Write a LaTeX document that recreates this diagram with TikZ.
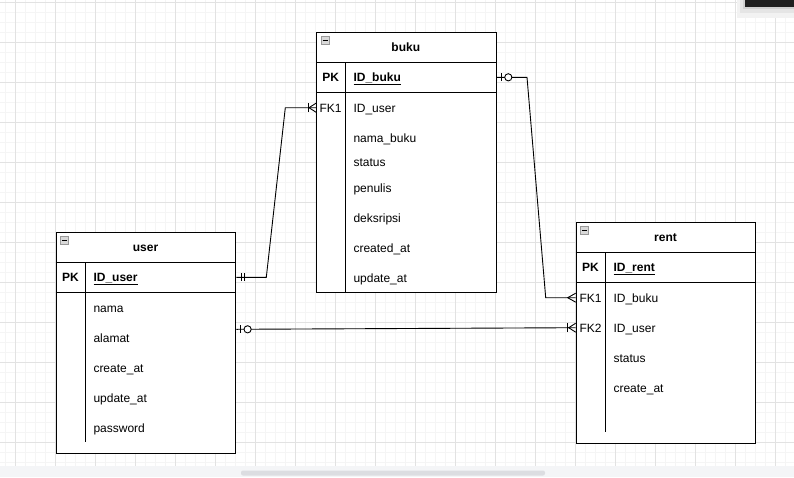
\documentclass[tikz,border=0pt]{standalone}
\usepackage{fontspec}
\setmainfont{Liberation Sans}
\usetikzlibrary{calc}
\definecolor{gridmajor}{HTML}{E2E2E2}
\definecolor{gridminor}{HTML}{F5F5F5}
\definecolor{bandgray}{HTML}{F4F5F7}
\definecolor{scrollgray}{HTML}{DCDDE1}
\newcommand{\fs}{\fontsize{12}{14}\selectfont}
\tikzset{
  tbl/.style={draw=black, fill=white, line width=1pt, inner sep=0pt, anchor=north west, minimum width=179.6pt},
  sep/.style={draw=black, line width=1pt},
  fld/.style={anchor=west, inner sep=0pt, font=\fs, text height=8.6pt, text depth=0pt},
  keylbl/.style={anchor=center, inner sep=0pt, font=\fs, text height=8.6pt, text depth=0pt},
  ttl/.style={anchor=center, inner sep=0pt, font=\fs\bfseries, text height=8.6pt, text depth=0pt},
  rel/.style={draw=black, line width=0.9pt},
  relmark/.style={draw=black, line width=0.9pt},
  minusbox/.style={draw=gray!80, fill=gray!30, line width=0.6pt},
}
\begin{document}
\begin{tikzpicture}[x=1pt, y=-1pt]
\useasboundingbox (0,0) rectangle (794,477);
\fill[white] (0,0) rectangle (794,477);
% grid
\foreach \x in {5,15,...,794} \draw[gridminor, line width=0.6pt] (\x,0) -- (\x,466);
\foreach \y in {2,12,...,466} \draw[gridminor, line width=0.6pt] (0,\y) -- (794,\y);
\foreach \x in {15,55,...,794} \draw[gridmajor, line width=0.8pt] (\x,0) -- (\x,466);
\foreach \y in {2,42,...,466} \draw[gridmajor, line width=0.8pt] (0,\y) -- (794,\y);
% bottom band and scrollbar
\fill[bandgray] (0,466) rectangle (794,477);
\fill[scrollgray, rounded corners=2pt] (241,470.5) rectangle (545,475.5);
% top right dark box with soft shadow
\fill[black!5] (737,0) rectangle (794,18);
\fill[black!10] (740,0) rectangle (794,13);
\fill[black!18] (743,0) rectangle (794,9);
\fill[black!88] (745,0) rectangle (794,6.5);

% ===== buku =====
\node[tbl, minimum height=259.7pt] (buku) at (316,32.3) {};
\draw[sep] (316,62.3) -- (495.6,62.3);
\draw[sep] (316,92.3) -- (495.6,92.3);
\draw[sep] (345.3,62.3) -- (345.3,292);
\draw[minusbox] (321,36.5) rectangle (329,44);
\draw[line width=0.8pt] (322.5,40.2) -- (327.5,40.2);
\node[ttl] (bT) at (405.8,47.3) {buku};
\node[keylbl, font=\fs\bfseries] (bPK) at (330.6,77.3) {PK};
\node[fld, font=\fs\bfseries] (bID) at (353.3,77.3) {\underline{ID\_buku}};
\node[keylbl] (bFK) at (330.6,107.7) {FK1};
\node[fld] (bUser) at (353.3,107.7) {ID\_user};
\node[fld] (bNama) at (353.3,137.7) {nama\_buku};
\node[fld] (bStatus) at (353.3,162.3) {status};
\node[fld] (bPenulis) at (353.3,188.3) {penulis};
\node[fld] (bDesk) at (353.3,217.7) {deksripsi};
\node[fld] (bCreated) at (353.3,247.7) {created\_at};
\node[fld] (bUpdate) at (353.3,277.7) {update\_at};

% ===== user =====
\node[tbl, minimum height=220.4pt] (user) at (55.7,232.3) {};
\draw[sep] (55.7,262.3) -- (235.3,262.3);
\draw[sep] (55.7,292.3) -- (235.3,292.3);
\draw[sep] (85.3,262.3) -- (85.3,441.7);
\draw[minusbox] (60.7,236.5) rectangle (68.7,244);
\draw[line width=0.8pt] (62.2,240.2) -- (67.2,240.2);
\node[ttl] (uT) at (145.5,247.3) {user};
\node[keylbl, font=\fs\bfseries] (uPK) at (70.5,277.3) {PK};
\node[fld, font=\fs\bfseries] (uID) at (93.3,277.3) {\underline{ID\_user}};
\node[fld] (uNama) at (93.3,307.7) {nama};
\node[fld] (uAlamat) at (93.3,337.7) {alamat};
\node[fld] (uCreate) at (93.3,367.7) {create\_at};
\node[fld] (uUpdate) at (93.3,397.7) {update\_at};
\node[fld] (uPass) at (93.3,427.7) {password};

% ===== rent =====
\node[tbl, minimum height=220.4pt] (rent) at (575.7,222.3) {};
\draw[sep] (575.7,252.3) -- (755.3,252.3);
\draw[sep] (575.7,282.3) -- (755.3,282.3);
\draw[sep] (605.3,252.3) -- (605.3,431.7);
\draw[minusbox] (580.7,226.5) rectangle (588.7,234);
\draw[line width=0.8pt] (582.2,230.2) -- (587.2,230.2);
\node[ttl] (rT) at (665.5,237.3) {rent};
\node[keylbl, font=\fs\bfseries] (rPK) at (590.5,267.3) {PK};
\node[fld, font=\fs\bfseries] (rID) at (613.3,267.3) {\underline{ID\_rent}};
\node[keylbl] (rFK1) at (590.5,297.7) {FK1};
\node[fld] (rBuku) at (613.3,297.7) {ID\_buku};
\node[keylbl] (rFK2) at (590.5,327.7) {FK2};
\node[fld] (rUser) at (613.3,327.7) {ID\_user};
\node[fld] (rStatus) at (613.3,357.7) {status};
\node[fld] (rCreate) at (613.3,387.7) {create\_at};

% ===== connectors =====
% user.ID_user (mandatory one) -> buku.ID_user (one or many)
\coordinate (c1s) at (uID -| user.east);
\coordinate (c1e) at (bUser -| buku.west);
\draw[rel] (c1s) -- ($(c1s)+(30,0)$) -- ($(c1e)+(-30.7,0)$) -- (c1e);
\draw[relmark] ($(c1s)+(5,-4)$) -- ($(c1s)+(5,4)$);
\draw[relmark] ($(c1s)+(8,-4)$) -- ($(c1s)+(8,4)$);
\draw[relmark] ($(c1e)+(-8,-4.5)$) -- ($(c1e)+(-8,4.5)$);
\draw[relmark] ($(c1e)+(0,-4.5)$) -- ($(c1e)+(-7,0)$) -- ($(c1e)+(0,4.5)$);

% buku.ID_buku (zero or one) -> rent.ID_buku (many)
\coordinate (c2s) at (bID -| buku.east);
\coordinate (c2e) at (rBuku -| rent.west);
\draw[rel] (c2s) -- ($(c2s)+(30.4,0)$) -- ($(c2e)+(-30,0)$) -- (c2e);
\draw[relmark] ($(c2s)+(4.7,-4)$) -- ($(c2s)+(4.7,4)$);
\draw[relmark, fill=white] ($(c2s)+(11.7,0)$) circle (3.6);
\draw[relmark] ($(c2e)+(0,-4.5)$) -- ($(c2e)+(-8,0)$) -- ($(c2e)+(0,4.5)$);

% user.alamat (zero or one) -> rent.ID_user (one or many)
\coordinate (c3s) at ($(uAlamat -| user.east)+(0,-8.4)$);
\coordinate (c3e) at (rUser -| rent.west);
\draw[rel] (c3s) -- (c3e);
\draw[relmark] ($(c3s)+(4.3,-4)$) -- ($(c3s)+(4.3,4)$);
\draw[relmark, fill=white] ($(c3s)+(11.3,0)$) circle (3.6);
\draw[relmark] ($(c3e)+(-8,-4.5)$) -- ($(c3e)+(-8,4.5)$);
\draw[relmark] ($(c3e)+(0,-4.5)$) -- ($(c3e)+(-7,0)$) -- ($(c3e)+(0,4.5)$);
\end{tikzpicture}
\end{document}
